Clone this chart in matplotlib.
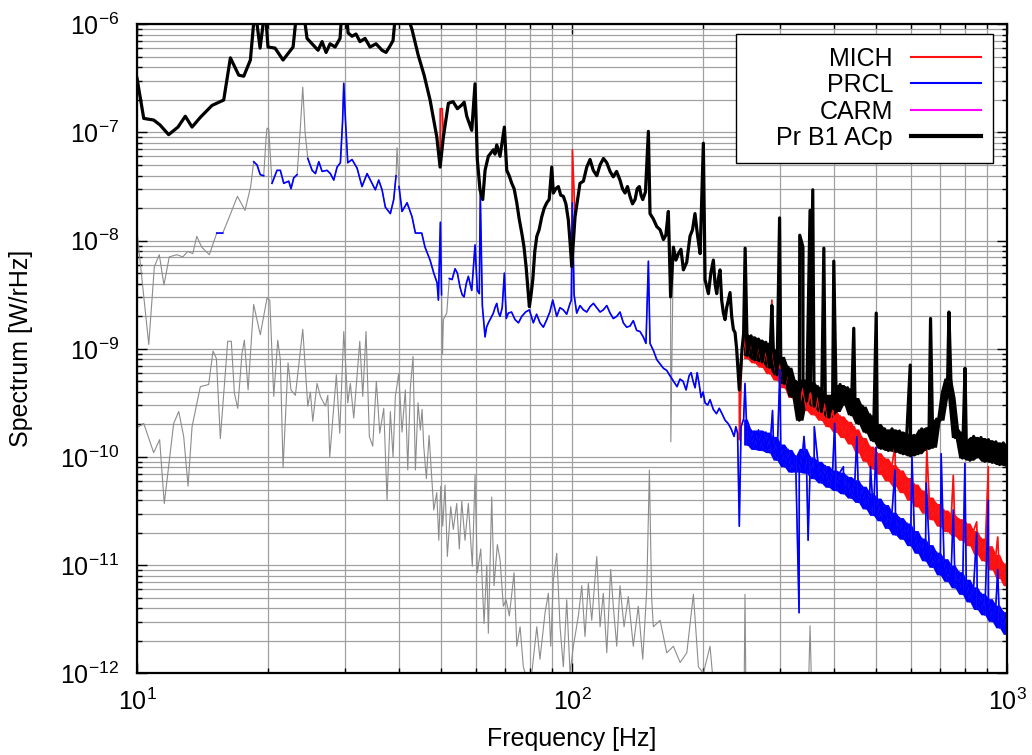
import numpy as np
import matplotlib
matplotlib.use('Agg')
import matplotlib.pyplot as plt
from matplotlib.lines import Line2D
from matplotlib.ticker import FixedLocator, NullFormatter

plt.rcParams['font.family'] = ['Liberation Sans', 'DejaVu Sans']
plt.rcParams['mathtext.default'] = 'regular'

# values are log10 of the spectrum [W/rHz]

# Pr B1 ACp, 10 - 246 Hz
acp_lo_f = [10.0, 10.36, 10.92, 11.29, 11.82, 12.42, 12.91, 13.38, 13.98, 14.87,
            15.82, 16.39, 17.13, 17.59, 18.22, 18.67, 19.18, 19.70, 20.0, 20.76,
            21.66, 22.84, 23.33, 24.08, 24.59, 25.39, 26.07, 26.63, 27.20, 27.78,
            28.53, 29.29, 29.60, 30.23, 30.56, 31.21, 31.87, 32.55, 33.43, 34.32,
            35.43, 36.58, 37.36, 38.16, 38.77, 39.39, 41.32, 42.88, 44.26, 45.70,
            47.17, 48.87, 49.74, 50.61, 51.97, 53.28, 55.78, 57.28, 58.81, 59.84,
            60.57, 61.44, 62.33, 63.10, 64.21, 65.93, 67.13, 68.31, 69.89, 70.78,
            72.68, 74.64, 76.64, 78.41, 79.78, 81.24, 82.98, 85.19, 87.48, 89.82,
            90.58, 93.01, 95.50, 98.06, 99.84, 101.6, 104.3, 108.1, 111.9, 116.0,
            120.2, 124.4, 128.9, 132.4, 135.9, 139.6, 142.8, 145.4, 149.8, 151.1,
            156.6, 162.2, 166.5, 168.5, 171.0, 175.6, 180.3, 186.7, 191.7, 197.0,
            200.4, 202.2, 205.8, 211.3, 215.1, 218.9, 222.8, 224.8, 228.7, 230.8,
            234.9, 239.0, 242.4, 246.0]
acp_lo_v = [-6.50, -6.87, -6.885, -6.93, -7.02, -6.95, -6.85, -6.95, -6.86, -6.75,
            -6.70, -6.31, -6.47, -6.48, -6.33, -5.85, -6.22, -5.85, -6.21, -6.22,
            -6.33, -6.21, -5.85, -5.85, -6.13, -6.19, -6.24, -6.16, -6.26, -6.18,
            -6.21, -6.13, -5.85, -5.85, -6.08, -6.11, -6.09, -6.16, -6.13, -6.21,
            -6.18, -6.24, -6.26, -6.20, -6.15, -5.85, -5.85, -6.05, -6.28, -6.47,
            -6.70, -7.04, -7.32, -7.04, -6.73, -6.715, -6.746, -6.85, -6.98, -6.55,
            -7.25, -7.53, -7.62, -7.35, -7.22, -7.16, -7.115, -7.22, -6.95, -7.35,
            -7.47, -7.65, -7.93, -8.24, -8.61, -8.36, -7.96, -7.78, -7.65, -7.32,
            -7.56, -7.50, -7.59, -7.81, -8.24, -7.78, -7.47, -7.32, -7.35, -7.30,
            -7.28, -7.41, -7.44, -7.56, -7.59, -7.62, -7.50, -7.62, -6.99, -7.75,
            -7.87, -7.99, -7.73, -8.52, -8.06, -8.12, -8.27, -7.96, -7.75, -8.12,
            -7.10, -8.36, -8.49, -8.18, -8.49, -8.27, -8.67, -8.73, -8.55, -8.48,
            -8.82, -9.00, -9.38, -9.00]
# extra in-between bins (noise), 50 - 240 Hz
acp_mid_f = [54.5, 56.5, 66.5, 71.7, 73.6, 75.6, 77.5, 80.5, 82.1, 84.0,
             86.3, 88.6, 91.8, 94.2, 96.8, 98.9, 103.0, 106.2, 110.0, 114.0,
             118.1, 122.3, 126.6, 130.6, 134.1, 137.7, 141.2, 144.1, 147.5, 153.8,
             159.4, 164.3, 173.3, 178.0, 183.5, 189.2, 194.3, 208.5, 213.2, 217.0,
             220.8, 226.7, 232.8, 237.0]
acp_mid_v = [-6.78, -6.72, -7.20, -7.40, -7.52, -7.80, -8.05, -8.50, -8.10, -7.90,
             -7.70, -7.62, -7.52, -7.58, -7.66, -8.00, -7.62, -7.45, -7.25, -7.40,
             -7.24, -7.36, -7.36, -7.52, -7.50, -7.66, -7.52, -7.58, -7.55, -7.80,
             -7.90, -7.95, -8.18, -8.08, -8.20, -7.90, -7.95, -8.30, -8.40, -8.35,
             -8.55, -8.62, -8.70, -8.85]

# dense part 248 - 1000 Hz (one value per bin)
acp_hi = [-8.86, -9.06, -8.88, -9.10, -8.91, -9.12, -8.94, -9.17, -9.00, -9.24,
          -9.07, -9.32, -9.17, -9.44, -9.30, -9.66, -9.28, -9.48, -9.30, -9.53,
          -9.35, -9.58, -9.42, -9.63, -9.42, -9.58, -9.33, -9.51, -9.36, -9.61,
          -9.45, -9.69, -9.53, -9.77, -9.61, -9.85, -9.69, -9.92, -9.74, -9.94,
          -9.74, -9.95, -9.76, -9.97, -9.78, -9.99, -9.80, -9.97, -9.74, -9.93,
          -9.72, -9.91, -9.65, -9.66, -9.40, -9.27, -9.45, -9.82, -9.76, -10.01,
          -9.84, -10.03, -9.81, -10.00, -9.82, -10.04, -9.84, -10.05, -9.86, -10.07,
          -9.87, -10.08]
mich_hi = [-8.89, -9.09, -8.93, -9.13, -8.97, -9.17, -9.02, -9.23, -9.08, -9.29,
           -9.14, -9.36, -9.22, -9.45, -9.31, -9.53, -9.37, -9.57, -9.41, -9.61,
           -9.45, -9.66, -9.51, -9.72, -9.57, -9.77, -9.62, -9.82, -9.67, -9.88,
           -9.74, -9.96, -9.82, -10.04, -9.90, -10.11, -9.96, -10.16, -10.01, -10.22,
           -10.07, -10.27, -10.12, -10.33, -10.19, -10.40, -10.25, -10.46, -10.31, -10.52,
           -10.37, -10.58, -10.43, -10.64, -10.49, -10.69, -10.53, -10.73, -10.57, -10.77,
           -10.61, -10.82, -10.68, -10.90, -10.75, -10.96, -10.82, -11.04, -10.90, -11.12,
           -10.98, -11.19]
prcl_hi = [-9.65, -9.89, -9.75, -9.93, -9.75, -9.94, -9.77, -9.96, -9.81, -10.03,
           -9.88, -10.09, -9.93, -10.14, -9.99, -10.14, -9.92, -10.15, -10.00, -10.20,
           -10.04, -10.24, -10.08, -10.28, -10.12, -10.31, -10.14, -10.34, -10.18, -10.38,
           -10.21, -10.42, -10.27, -10.48, -10.33, -10.54, -10.38, -10.59, -10.44, -10.66,
           -10.51, -10.72, -10.56, -10.76, -10.61, -10.82, -10.68, -10.89, -10.75, -10.96,
           -10.81, -11.02, -10.88, -11.09, -10.94, -11.15, -11.00, -11.21, -11.06, -11.27,
           -11.13, -11.34, -11.20, -11.41, -11.26, -11.46, -11.31, -11.52, -11.37, -11.58,
           -11.43, -11.64]

# lines / spikes
acp_spk_f = [250.0, 288.0, 300.0, 333.8, 339.5, 352.5, 357.6, 379.2, 399.7, 444.3,
             500.4, 599.1, 667.1, 735.2, 800.7]
acp_spk_v = [-8.07, -8.60, -7.79, -7.95, -8.06, -7.72, -7.53, -8.07, -8.19, -8.81,
             -8.67, -9.15, -8.72, -8.66, -9.18]

# MICH follows ACp below 246 Hz except these points
mich_x_f = [49.78, 50.3, 100.2, 168.7, 242.6]
mich_x_v = [-6.78, -6.78, -7.16, -9.86, -9.84]
mich_spk_f = [288.0, 445.6, 552.6, 653.9, 752.5, 851.6, 905.8, 951.9]
mich_spk_v = [-8.55, -9.72, -9.90, -9.93, -10.17, -10.60, -10.09, -10.74]
mich_gray = [(168.6, 168.8)]

prcl_lo_f = [10.0, 10.64, 10.96, 11.25, 11.53, 11.86, 12.34, 12.74, 13.08, 13.43,
             13.72, 14.08, 14.66, 15.25, 15.74, 16.30, 17.01, 17.71, 18.25, 18.54,
             18.87, 19.20, 19.55, 19.80, 19.90, 20.08, 20.43, 20.98, 21.35, 21.74,
             22.32, 22.59, 22.92, 23.33, 23.70, 24.04, 24.34, 24.69, 25.26, 25.71,
             26.17, 26.63, 27.34, 27.82, 28.33, 28.83, 29.34, 29.68, 29.87, 30.15,
             30.51, 31.21, 32.05, 32.90, 33.79, 34.69, 35.30, 35.94, 36.58, 37.22,
             38.22, 38.91, 39.39, 39.60, 40.02, 40.66, 41.76, 42.88, 43.64, 45.13,
             45.92, 47.17, 48.10, 48.95, 49.29, 49.81, 50.12, 50.38, 50.61, 51.52,
             52.23, 53.83, 55.27, 56.46, 57.76, 58.81, 59.84, 60.57, 61.21, 61.53,
             62.2, 63.10, 64.21, 65.93, 67.13, 68.31, 69.89, 71.37, 73.96, 76.64,
             79.78, 81.47, 84.39, 87.48, 90.29, 92.22, 95.50, 98.95, 100.16, 101.1,
             102.5, 106.2, 110.0, 114.0, 118.0, 122.3, 126.7, 131.2, 135.9, 140.8,
             145.8, 147.9, 149.8, 151.1, 156.6, 162.2, 168.0, 174.3, 180.0, 185.8,
             189.8, 193.9, 198.0, 202.2, 207.6, 214.8, 221.2, 228.4, 235.8, 240.2,
             242.4, 244.7]
prcl_lo_v = [-7.92, -8.96, -8.24, -8.13, -8.41, -8.15, -8.13, -8.15, -8.10, -8.12,
             -7.96, -8.06, -8.13, -7.93, -7.93, -7.78, -7.59, -7.72, -7.50, -7.27,
             -7.30, -7.39, -7.40, -7.05, -6.96, -6.97, -7.47, -7.35, -7.35, -7.47,
             -7.45, -7.52, -7.42, -7.39, -7.00, -6.58, -7.00, -7.24, -7.35, -7.38,
             -7.27, -7.36, -7.35, -7.38, -7.44, -7.32, -7.28, -6.90, -6.545, -6.90,
             -7.28, -7.25, -7.33, -7.50, -7.38, -7.47, -7.53, -7.44, -7.53, -7.69,
             -7.75, -7.62, -7.40, -7.14, -7.50, -7.73, -7.65, -7.78, -7.93, -7.93,
             -8.06, -8.18, -8.30, -8.39, -8.55, -7.83, -8.50, -9.05, -8.73, -8.67,
             -8.35, -8.26, -8.43, -8.52, -8.33, -8.46, -8.04, -8.46, -8.49, -7.56,
             -8.60, -8.89, -8.76, -8.67, -8.58, -8.70, -8.30, -8.67, -8.73, -8.70,
             -8.64, -8.76, -8.76, -8.73, -8.55, -8.70, -8.64, -8.58, -7.65, -8.50,
             -8.67, -8.64, -8.61, -8.62, -8.64, -8.67, -8.70, -8.76, -8.79, -8.83,
             -8.89, -8.95, -8.19, -8.95, -9.10, -9.18, -9.25, -9.35, -9.30, -9.25,
             -9.30, -9.22, -9.45, -9.50, -9.47, -9.60, -9.60, -9.69, -9.81, -9.78,
             -10.64, -9.72]
prcl_mid_f = [53.0, 54.5, 55.9, 57.1, 58.3, 63.6, 65.0, 66.5, 67.7, 69.1,
              70.6, 72.6, 75.3, 78.2, 80.6, 82.9, 85.9, 88.9, 91.2, 93.8,
              97.2, 99.6, 104.3, 108.1, 112.0, 116.0, 120.2, 124.4, 128.9, 133.5,
              138.3, 143.3, 154.0, 159.4, 165.1, 171.1, 177.1, 182.9, 187.8, 191.8,
              195.9, 200.1, 205.0, 211.2, 218.0, 224.8, 232.1, 238.0]
prcl_mid_v = [-8.36, -8.30, -8.50, -8.40, -8.40, -8.80, -8.72, -8.62, -8.66, -8.62,
              -8.72, -8.66, -8.76, -8.66, -8.70, -8.68, -8.80, -8.66, -8.62, -8.62,
              -8.68, -8.55, -8.60, -8.66, -8.58, -8.66, -8.60, -8.72, -8.66, -8.80,
              -8.74, -8.84, -9.02, -9.14, -9.20, -9.30, -9.28, -9.38, -9.22, -9.36,
              -9.32, -9.40, -9.52, -9.56, -9.55, -9.66, -9.74, -9.72]
prcl_spk_f = [249.8, 289.0, 300.5, 332.6, 341.4, 348.9, 360.5, 401.5, 420.6, 451.5,
              485.5, 499.8, 552.6, 604.7, 652.0, 705.6, 752.5, 800.0, 851.6, 905.8,
              951.9]
prcl_spk_v = [-9.32, -9.57, -9.19, -11.44, -9.81, -10.77, -9.72, -9.69, -10.09, -9.81,
              -10.09, -9.91, -10.12, -10.00, -10.24, -9.97, -10.49, -10.06, -10.70, -10.40,
              -11.04]
# frequency ranges where PRCL is only drawn in grey
prcl_gray = [(9.0, 15.2), (15.8, 18.4), (19.7, 20.2), (23.5, 24.4), (39.5, 39.7), (50.3, 52.0)]

carm_f = [10.0, 10.36, 10.92, 11.27, 11.55, 12.14, 12.47, 12.80, 13.10, 13.38,
          13.98, 14.61, 14.95, 15.22, 15.54, 16.16, 16.47, 16.74, 17.04, 17.43,
          17.65, 18.00, 18.54, 19.20, 19.90, 20.19, 20.62, 21.06, 21.35, 21.66,
          22.24, 22.59, 23.12, 24.04, 24.69, 25.03, 25.35, 25.93, 26.39, 27.10,
          27.45, 27.73, 28.72, 29.24, 29.87, 30.51, 30.93, 31.49, 32.51, 33.03,
          33.61, 34.20, 34.82, 35.49, 36.14, 36.91, 37.56, 38.22, 38.77, 39.25,
          39.95, 40.66, 41.38, 41.91, 42.49, 43.10, 43.64, 44.26, 44.80, 45.21,
          45.61, 46.25, 46.92, 47.41, 48.10, 48.87, 49.39, 49.91, 50.44, 51.05,
          51.68, 52.61, 53.34, 54.31, 55.06, 55.78, 56.75, 57.76, 58.99, 59.84,
          60.57, 61.68, 62.77, 63.68, 64.21, 65.37, 66.17, 67.34, 68.31, 69.52,
          70.52, 71.76, 73.57, 74.64, 75.96, 77.27, 78.69, 80.81, 82.98, 84.39,
          86.69, 88.22, 89.34, 90.58, 92.22, 93.85, 95.50, 97.23, 98.95, 100.7,
          103.4, 105.3, 107.1, 109.0, 111.0, 114.0, 116.0, 118.0, 120.2, 122.7,
          124.4, 126.7, 128.9, 131.7, 134.7, 138.3, 142.0, 145.4, 148.5, 150.6,
          152.4, 153.8, 159.4, 165.1, 171.0, 177.2, 183.6, 190.1, 195.2, 200.4,
          207.6, 211.3, 218.9, 248.5, 249.8, 251.2, 348.9, 352.5, 356.2]
carm_v = [-9.73, -9.69, -9.96, -9.84, -10.43, -9.69, -9.58, -9.81, -10.27, -9.72,
          -9.35, -9.33, -9.02, -9.09, -9.83, -8.93, -8.93, -9.41, -9.55, -9.04,
          -8.92, -9.38, -8.59, -8.87, -8.53, -8.55, -9.44, -8.92, -9.10, -10.10,
          -9.13, -9.38, -9.43, -8.82, -9.53, -9.40, -9.67, -9.32, -9.44, -9.53,
          -9.43, -10.00, -9.24, -9.78, -8.84, -9.50, -9.32, -9.64, -8.93, -9.44,
          -8.84, -9.81, -9.90, -9.30, -9.78, -9.55, -10.40, -9.58, -10.00, -9.44,
          -9.23, -9.77, -9.38, -10.12, -9.36, -9.07, -10.12, -9.50, -9.75, -9.56,
          -9.90, -10.20, -9.80, -10.09, -10.49, -10.33, -10.77, -10.27, -10.64, -10.26,
          -10.92, -10.46, -10.67, -10.43, -10.85, -10.41, -10.77, -10.43, -11.01, -10.17,
          -11.07, -10.85, -11.54, -11.00, -11.63, -10.37, -11.19, -10.81, -10.95, -11.38,
          -11.32, -11.47, -11.07, -11.75, -11.57, -11.94, -12.05, -12.00, -11.57, -11.87,
          -11.44, -11.26, -11.75, -11.14, -10.89, -11.57, -11.94, -11.32, -12.00, -11.75,
          -11.47, -11.19, -11.66, -11.17, -11.51, -10.92, -11.57, -11.26, -11.81, -11.04,
          -11.38, -11.75, -11.19, -11.57, -11.29, -11.75, -11.38, -11.87, -11.23, -10.12,
          -11.30, -11.57, -11.51, -11.81, -11.75, -11.90, -11.81, -11.27, -11.94, -12.00,
          -11.75, -12.10, -12.30, -12.30, -11.27, -12.30, -12.30, -11.56, -12.30]

hi_f = np.geomspace(248, 1000, len(acp_hi))


def merged(*parts):
    f = np.concatenate([np.asarray(p[0], float) for p in parts])
    v = np.concatenate([np.asarray(p[1], float) for p in parts])
    i = np.argsort(f, kind='stable')
    return f[i], 10.0 ** v[i]


def masked(f, v, windows):
    v = v.copy()
    for a, b in windows:
        v[(f >= a) & (f <= b)] = np.nan
    return v


def band(ax, vals, color):
    # the dense noise of the trace, filled between neighbouring bin extremes
    p = np.pad(np.asarray(vals, float), 1, mode='edge')
    lo = np.minimum(np.minimum(p[:-2], p[1:-1]), p[2:])
    up = np.maximum(np.maximum(p[:-2], p[1:-1]), p[2:])
    ax.fill_between(hi_f, 10.0 ** lo, 10.0 ** up, color=color, lw=0)


acp_f, acp_s = merged((acp_lo_f, acp_lo_v), (acp_mid_f, acp_mid_v),
                      (hi_f, acp_hi), (acp_spk_f, acp_spk_v))
mich_f, mich_s = merged((acp_lo_f, acp_lo_v), (acp_mid_f, acp_mid_v), (mich_x_f, mich_x_v),
                        (hi_f, mich_hi), (mich_spk_f, mich_spk_v))
prcl_f, prcl_s = merged((prcl_lo_f, prcl_lo_v), (prcl_mid_f, prcl_mid_v),
                        (hi_f, prcl_hi), (prcl_spk_f, prcl_spk_v))
carm_ff, carm_s = merged((carm_f, carm_v))

fig = plt.figure(figsize=(10.32, 7.55), dpi=100)
ax = fig.add_axes([0.1328, 0.1082, 0.8430, 0.8596])

gray = '#8c8c8c'
red = '#ff1010'
blue = '#0000ff'
ax.plot(carm_ff, carm_s, color=gray, lw=0.8)
ax.plot(prcl_f, prcl_s, color=gray, lw=0.8)
ax.plot(mich_f, mich_s, color=gray, lw=0.8)
band(ax, mich_hi, red)
ax.plot(mich_f, masked(mich_f, mich_s, mich_gray), color=red, lw=1.2)
band(ax, prcl_hi, blue)
ax.plot(prcl_f, masked(prcl_f, prcl_s, prcl_gray), color=blue, lw=1.2)
band(ax, acp_hi, 'black')
ax.plot(acp_f, acp_s, color='black', lw=2.3)

ax.set_xscale('log')
ax.set_yscale('log')
ax.set_xlim(10, 1000)
ax.set_ylim(1e-12, 1e-6)
ax.xaxis.set_major_locator(FixedLocator([10, 100, 1000]))
ax.xaxis.set_minor_locator(FixedLocator([m * d for d in (10, 100) for m in range(2, 10)]))
ax.yaxis.set_major_locator(FixedLocator([10.0 ** e for e in range(-12, -5)]))
ax.yaxis.set_minor_locator(FixedLocator([m * 10.0 ** e for e in range(-12, -6)
                                         for m in range(2, 10)]))
ax.xaxis.set_minor_formatter(NullFormatter())
ax.yaxis.set_minor_formatter(NullFormatter())

ax.grid(True, which='both', color='#a0a0a0', lw=0.9)
ax.set_axisbelow(True)
ax.tick_params(which='both', direction='in', top=True, right=True, labelsize=18, width=1)
ax.tick_params(which='major', length=7)
ax.tick_params(which='minor', length=3.5)
ax.tick_params(axis='y', pad=13)
ax.tick_params(axis='x', pad=11)
for s in ax.spines.values():
    s.set_linewidth(1.6)

ax.set_xlabel('Frequency [Hz]', fontsize=18)
ax.set_ylabel('Spectrum [W/rHz]', fontsize=18)
ax.xaxis.set_label_coords(0.5, -0.082)
ax.yaxis.set_label_coords(-0.1195, 0.5)

handles = [Line2D([], [], color=red, lw=1.5),
           Line2D([], [], color=blue, lw=1.5),
           Line2D([], [], color='#ff00ff', lw=1.5),
           Line2D([], [], color='black', lw=3)]
labels = ['MICH', 'PRCL', 'CARM', '    Pr B1 ACp']
leg = ax.legend(handles, labels, loc='upper right', bbox_to_anchor=(0.984, 0.985),
                markerfirst=False, fontsize=18, fancybox=False, edgecolor='black',
                framealpha=1, borderpad=0.5, labelspacing=0.1, handlelength=2.8,
                handletextpad=0.7, borderaxespad=0)
leg.get_frame().set_linewidth(1.0)

fig.savefig('out.png', dpi=100)
